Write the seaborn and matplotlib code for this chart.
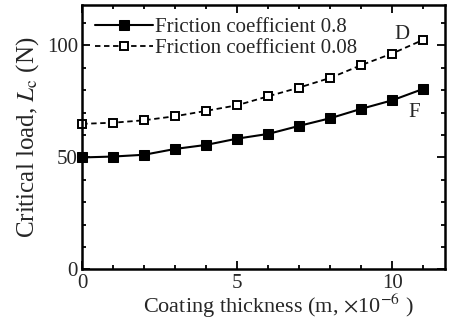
import matplotlib
matplotlib.use("Agg")
import matplotlib.pyplot as plt
import seaborn as sns
import pandas as pd
from matplotlib.ticker import MultipleLocator

thickness = [0, 1, 2, 3, 4, 5, 6, 7, 8, 9, 10, 11]
load_f08 = [50, 50.4, 51.2, 53.8, 55.6, 58.4, 60.5, 64.1, 67.5, 71.7, 75.5, 80.6]
load_f008 = [65, 65.5, 66.6, 68.4, 70.8, 73.3, 77.3, 81.2, 85.5, 91.2, 96.4, 102.5]
series_names = ["Friction coefficient 0.8", "Friction coefficient 0.08"]

sns.set_theme(style="ticks")
plt.rcParams['font.family'] = ['Liberation Serif', 'DejaVu Serif']
plt.rcParams['mathtext.fontset'] = 'stix'

fig = plt.figure(figsize=(4.54, 3.2), dpi=100)
ax = fig.add_axes([0.181, 0.158, 0.799, 0.826])

df1 = pd.DataFrame({"x": thickness, "y": load_f08})
df2 = pd.DataFrame({"x": thickness, "y": load_f008})

sns.lineplot(data=df1, x="x", y="y", ax=ax, color="black", linewidth=1.5,
             marker="s", markersize=6.5, markerfacecolor="black",
             markeredgecolor="black", label=series_names[0], clip_on=False)
sns.lineplot(data=df2, x="x", y="y", ax=ax, color="black", linewidth=1.3,
             linestyle=(0, (3, 2)), marker="s", markersize=6,
             markerfacecolor="white", markeredgecolor="black",
             markeredgewidth=1.4, label=series_names[1], clip_on=False)

ax.set_xlim(0, 11.7)
ax.set_ylim(0, 118)
ax.xaxis.set_major_locator(MultipleLocator(5))
ax.xaxis.set_minor_locator(MultipleLocator(1))
ax.yaxis.set_major_locator(MultipleLocator(50))
ax.yaxis.set_minor_locator(MultipleLocator(10))
ax.tick_params(which="both", direction="in", top=True, right=True,
               labelsize=15, width=1.3, color="black", pad=3)
ax.tick_params(which="major", length=6)
ax.tick_params(which="minor", length=3)
for s in ax.spines.values():
    s.set_linewidth(1.8)
    s.set_color("black")

ax.set_xlabel(r"Coating thickness (m, $\times$10$^{-6}$ )", fontsize=16, labelpad=0)
ax.xaxis.set_label_coords(0.54, -0.085)
ax.set_ylabel(r"Critical load, $L_{\rm c}$ (N)", fontsize=18, labelpad=4)

ax.text(10.3, 105, "D", fontsize=15, ha="center", va="center")
ax.text(10.7, 70, "F", fontsize=15, ha="center", va="center")

leg = ax.legend(loc="upper left", frameon=False, fontsize=15,
                handlelength=2.8, handletextpad=0.1, borderaxespad=0.2,
                labelspacing=0.05, bbox_to_anchor=(0.0, 1.0))

fig.savefig("out.png", dpi=100)
